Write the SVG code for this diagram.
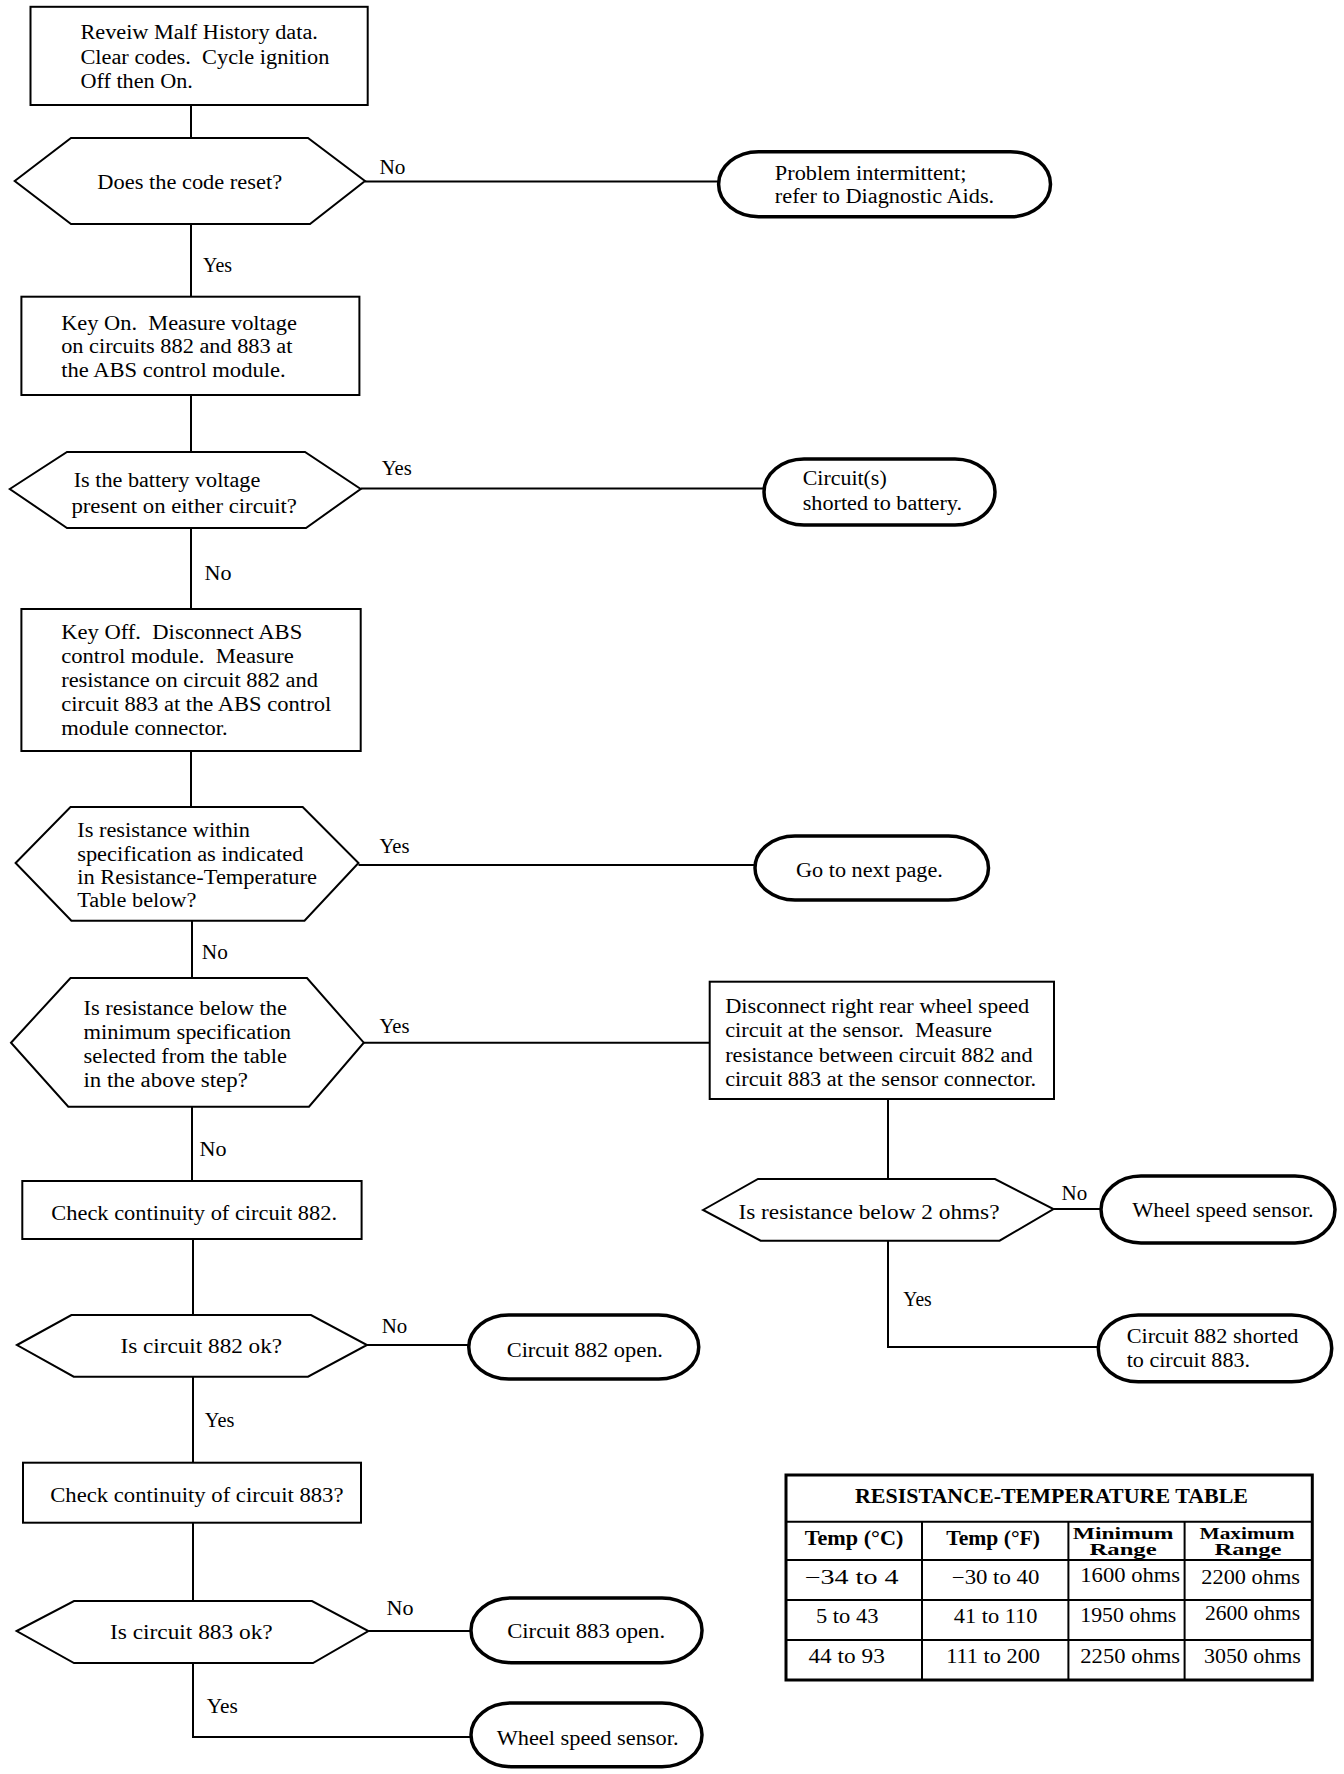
<svg xmlns="http://www.w3.org/2000/svg" width="1344" height="1774" viewBox="0 0 1344 1774">
<style>
.box{fill:#fff;stroke:#000;stroke-width:2}
.term{fill:#fff;stroke:#000;stroke-width:3.5}
.hex{fill:#fff;stroke:#000;stroke-width:2;stroke-linejoin:miter}
.ln{fill:none;stroke:#000;stroke-width:2}
.t{font-family:"Liberation Serif","Times New Roman",serif;font-size:20px;fill:#000}
.tb{font-family:"Liberation Serif","Times New Roman",serif;font-size:20px;font-weight:bold;fill:#000}
.ts{font-family:"Liberation Serif","Times New Roman",serif;font-size:16px;font-weight:bold;fill:#000}
.tl{fill:none;stroke:#000;stroke-width:2}
.to{fill:#fff;stroke:#000;stroke-width:3}
</style>
<rect width="1344" height="1774" fill="#fff"/>
<g id="connectors">
<polyline class="ln" points="191,105 191,138"/>
<polyline class="ln" points="365,181.5 719,181.5"/>
<polyline class="ln" points="191,224 191,297"/>
<polyline class="ln" points="191,395 191,452"/>
<polyline class="ln" points="360.7,488.5 764,488.5"/>
<polyline class="ln" points="191,528 191,609"/>
<polyline class="ln" points="191,751 191,807"/>
<polyline class="ln" points="358.5,865 755,865"/>
<polyline class="ln" points="192,921 192,978"/>
<polyline class="ln" points="363.8,1042.7 709.7,1042.7"/>
<polyline class="ln" points="192,1107 192,1181"/>
<polyline class="ln" points="193,1239 193,1315"/>
<polyline class="ln" points="367,1345 469,1345"/>
<polyline class="ln" points="193,1377 193,1463"/>
<polyline class="ln" points="193,1523 193,1601"/>
<polyline class="ln" points="368.4,1631 471,1631"/>
<polyline class="ln" points="193,1663 193,1737 471,1737"/>
<polyline class="ln" points="888,1099 888,1179"/>
<polyline class="ln" points="1053.5,1209 1101,1209"/>
<polyline class="ln" points="888,1241 888,1347 1098.3,1347"/>
<text class="t" x="379.5" y="174" textLength="26" lengthAdjust="spacingAndGlyphs">No</text>
<text class="t" x="203" y="271.5" textLength="29" lengthAdjust="spacingAndGlyphs">Yes</text>
<text class="t" x="381.7" y="475" textLength="30" lengthAdjust="spacingAndGlyphs">Yes</text>
<text class="t" x="204.5" y="580" textLength="27" lengthAdjust="spacingAndGlyphs">No</text>
<text class="t" x="379.5" y="852.7" textLength="30" lengthAdjust="spacingAndGlyphs">Yes</text>
<text class="t" x="201.8" y="959.3" textLength="26" lengthAdjust="spacingAndGlyphs">No</text>
<text class="t" x="379.5" y="1033.3" textLength="30" lengthAdjust="spacingAndGlyphs">Yes</text>
<text class="t" x="199.6" y="1156" textLength="27" lengthAdjust="spacingAndGlyphs">No</text>
<text class="t" x="381.7" y="1333.3" textLength="25.5" lengthAdjust="spacingAndGlyphs">No</text>
<text class="t" x="204.8" y="1427.3" textLength="29.5" lengthAdjust="spacingAndGlyphs">Yes</text>
<text class="t" x="386.6" y="1615" textLength="27" lengthAdjust="spacingAndGlyphs">No</text>
<text class="t" x="206.7" y="1712.7" textLength="31" lengthAdjust="spacingAndGlyphs">Yes</text>
<text class="t" x="1061.5" y="1200" textLength="25.7" lengthAdjust="spacingAndGlyphs">No</text>
<text class="t" x="903.3" y="1306" textLength="28.4" lengthAdjust="spacingAndGlyphs">Yes</text>
</g>
<g id="n1">
<rect class="box" x="30.5" y="6.8" width="337.2" height="98.2"/>
<text class="t" x="80.4" y="39.3" textLength="237.5" lengthAdjust="spacingAndGlyphs">Reveiw Malf History data.</text>
<text class="t" x="80.4" y="63.5" textLength="249" lengthAdjust="spacingAndGlyphs" xml:space="preserve">Clear codes.  Cycle ignition</text>
<text class="t" x="80.4" y="87.5" textLength="112.5" lengthAdjust="spacingAndGlyphs">Off then On.</text>
</g>
<g id="n2">
<polygon class="hex" points="14.7,181 71,138 308,138 365,181 310,224 71,224"/>
<text class="t" x="97.3" y="189.3" textLength="184.8" lengthAdjust="spacingAndGlyphs">Does the code reset?</text>
</g>
<g id="n3">
<rect class="term" x="718.6" y="151.7" width="331.9" height="65" rx="40" ry="32.5"/>
<text class="t" x="774.8" y="180" textLength="191.6" lengthAdjust="spacingAndGlyphs">Problem intermittent;</text>
<text class="t" x="774.8" y="202.7" textLength="219.4" lengthAdjust="spacingAndGlyphs">refer to Diagnostic Aids.</text>
</g>
<g id="n4">
<rect class="box" x="21.4" y="296.7" width="338" height="98.3"/>
<text class="t" x="61.2" y="330" textLength="235.7" lengthAdjust="spacingAndGlyphs" xml:space="preserve">Key On.  Measure voltage</text>
<text class="t" x="61.2" y="353.3" textLength="231.2" lengthAdjust="spacingAndGlyphs">on circuits 882 and 883 at</text>
<text class="t" x="61.2" y="376.7" textLength="224.5" lengthAdjust="spacingAndGlyphs">the ABS control module.</text>
</g>
<g id="n5">
<polygon class="hex" points="9.8,489 67,452 305,452 360.7,489 306,528 67,528"/>
<text class="t" x="73.7" y="486.7" textLength="186.6" lengthAdjust="spacingAndGlyphs">Is the battery voltage</text>
<text class="t" x="71.4" y="513.3" textLength="225.5" lengthAdjust="spacingAndGlyphs">present on either circuit?</text>
</g>
<g id="n6">
<rect class="term" x="764" y="459" width="231" height="66" rx="40" ry="33"/>
<text class="t" x="802.7" y="485" textLength="84" lengthAdjust="spacingAndGlyphs">Circuit(s)</text>
<text class="t" x="802.7" y="510" textLength="159.3" lengthAdjust="spacingAndGlyphs">shorted to battery.</text>
</g>
<g id="n7">
<rect class="box" x="21.4" y="609" width="339.3" height="142"/>
<text class="t" x="61.2" y="639.3" textLength="241" lengthAdjust="spacingAndGlyphs" xml:space="preserve">Key Off.  Disconnect ABS</text>
<text class="t" x="61.2" y="662.7" textLength="232.6" lengthAdjust="spacingAndGlyphs" xml:space="preserve">control module.  Measure</text>
<text class="t" x="61.2" y="686.7" textLength="256.7" lengthAdjust="spacingAndGlyphs">resistance on circuit 882 and</text>
<text class="t" x="61.2" y="710.7" textLength="270" lengthAdjust="spacingAndGlyphs">circuit 883 at the ABS control</text>
<text class="t" x="61.2" y="735" textLength="166.5" lengthAdjust="spacingAndGlyphs">module connector.</text>
</g>
<g id="n8">
<polygon class="hex" points="15.6,863 70.5,807 302.7,807 358.5,863 304.5,920.7 71.4,920.7"/>
<text class="t" x="77.2" y="836.7" textLength="172.8" lengthAdjust="spacingAndGlyphs">Is resistance within</text>
<text class="t" x="77.2" y="860.5" textLength="226.3" lengthAdjust="spacingAndGlyphs">specification as indicated</text>
<text class="t" x="77.2" y="884" textLength="239.7" lengthAdjust="spacingAndGlyphs">in Resistance-Temperature</text>
<text class="t" x="77.2" y="907.3" textLength="119.2" lengthAdjust="spacingAndGlyphs">Table below?</text>
</g>
<g id="n9">
<rect class="term" x="755" y="836" width="233.5" height="64" rx="40" ry="32"/>
<text class="t" x="796" y="877.3" textLength="146.9" lengthAdjust="spacingAndGlyphs">Go to next page.</text>
</g>
<g id="n10">
<polygon class="hex" points="11,1042.7 70.5,978 307,978 363.8,1042.7 309,1106.7 68.3,1106.7"/>
<text class="t" x="83.5" y="1015" textLength="203.5" lengthAdjust="spacingAndGlyphs">Is resistance below the</text>
<text class="t" x="83.5" y="1039.3" textLength="207.6" lengthAdjust="spacingAndGlyphs">minimum specification</text>
<text class="t" x="83.5" y="1063.3" textLength="203.5" lengthAdjust="spacingAndGlyphs">selected from the table</text>
<text class="t" x="83.5" y="1087.3" textLength="164.3" lengthAdjust="spacingAndGlyphs">in the above step?</text>
</g>
<g id="n11">
<rect class="box" x="709.7" y="981.7" width="344.3" height="117.3"/>
<text class="t" x="725.2" y="1013.3" textLength="304" lengthAdjust="spacingAndGlyphs">Disconnect right rear wheel speed</text>
<text class="t" x="725.2" y="1037.3" textLength="266.8" lengthAdjust="spacingAndGlyphs" xml:space="preserve">circuit at the sensor.  Measure</text>
<text class="t" x="725.2" y="1061.7" textLength="307.5" lengthAdjust="spacingAndGlyphs">resistance between circuit 882 and</text>
<text class="t" x="725.2" y="1086" textLength="311" lengthAdjust="spacingAndGlyphs">circuit 883 at the sensor connector.</text>
</g>
<g id="n12">
<polygon class="hex" points="703,1210 758,1179 995,1179 1053.5,1209 999.6,1240.7 760.6,1240.7"/>
<text class="t" x="738.5" y="1219.3" textLength="261" lengthAdjust="spacingAndGlyphs">Is resistance below 2 ohms?</text>
</g>
<g id="n13">
<rect class="term" x="1101" y="1176" width="234" height="67" rx="40" ry="33.5"/>
<text class="t" x="1132.3" y="1216.7" textLength="181.4" lengthAdjust="spacingAndGlyphs">Wheel speed sensor.</text>
</g>
<g id="n14">
<rect class="term" x="1098.3" y="1315" width="233.4" height="66.7" rx="40" ry="33"/>
<text class="t" x="1126.7" y="1343.3" textLength="171.7" lengthAdjust="spacingAndGlyphs">Circuit 882 shorted</text>
<text class="t" x="1126.7" y="1367.3" textLength="123.3" lengthAdjust="spacingAndGlyphs">to circuit 883.</text>
</g>
<g id="n15">
<rect class="box" x="22.3" y="1181" width="339.3" height="58"/>
<text class="t" x="51.3" y="1220" textLength="285.7" lengthAdjust="spacingAndGlyphs">Check continuity of circuit 882.</text>
</g>
<g id="n16">
<polygon class="hex" points="17,1345 71.4,1315 311,1315 367,1345 308,1376.7 73.7,1376.7"/>
<text class="t" x="120.5" y="1353.3" textLength="161.6" lengthAdjust="spacingAndGlyphs">Is circuit 882 ok?</text>
</g>
<g id="n17">
<rect class="term" x="468.75" y="1315" width="230" height="64" rx="40" ry="32"/>
<text class="t" x="506.7" y="1356.7" textLength="156.3" lengthAdjust="spacingAndGlyphs">Circuit 882 open.</text>
</g>
<g id="n18">
<rect class="box" x="23" y="1462.7" width="338" height="60"/>
<text class="t" x="50.2" y="1501.7" textLength="293.3" lengthAdjust="spacingAndGlyphs">Check continuity of circuit 883?</text>
</g>
<g id="n19">
<polygon class="hex" points="16.7,1631 74,1601 312,1601 368.4,1631 313,1663 74,1663"/>
<text class="t" x="110" y="1639.3" textLength="162.7" lengthAdjust="spacingAndGlyphs">Is circuit 883 ok?</text>
</g>
<g id="n20">
<rect class="term" x="471" y="1598" width="231" height="64.7" rx="40" ry="32"/>
<text class="t" x="507.2" y="1637.7" textLength="157.9" lengthAdjust="spacingAndGlyphs">Circuit 883 open.</text>
</g>
<g id="n21">
<rect class="term" x="471" y="1703" width="231" height="63.7" rx="40" ry="31.8"/>
<text class="t" x="496.7" y="1745" textLength="181.8" lengthAdjust="spacingAndGlyphs">Wheel speed sensor.</text>
</g>
<g id="table">
<rect class="to" x="786" y="1475" width="526.3" height="205"/>
<line class="tl" x1="786" y1="1521.7" x2="1312.3" y2="1521.7"/>
<line class="tl" x1="786" y1="1560" x2="1312.3" y2="1560"/>
<line class="tl" x1="786" y1="1600" x2="1312.3" y2="1600"/>
<line class="tl" x1="786" y1="1640" x2="1312.3" y2="1640"/>
<line class="tl" x1="922" y1="1521.7" x2="922" y2="1680"/>
<line class="tl" x1="1068.4" y1="1521.7" x2="1068.4" y2="1680"/>
<line class="tl" x1="1184.6" y1="1521.7" x2="1184.6" y2="1680"/>
<text class="tb" x="855" y="1503.3" textLength="393" lengthAdjust="spacingAndGlyphs">RESISTANCE-TEMPERATURE TABLE</text>
<text class="tb" x="804.7" y="1545" textLength="98.7" lengthAdjust="spacingAndGlyphs">Temp (°C)</text>
<text class="tb" x="946.2" y="1545" textLength="93.8" lengthAdjust="spacingAndGlyphs">Temp (°F)</text>
<text class="ts" x="1072.8" y="1539" textLength="100.6" lengthAdjust="spacingAndGlyphs">Minimum</text>
<text class="ts" x="1089.6" y="1554.5" textLength="67" lengthAdjust="spacingAndGlyphs">Range</text>
<text class="ts" x="1199.5" y="1539" textLength="95" lengthAdjust="spacingAndGlyphs">Maximum</text>
<text class="ts" x="1214.4" y="1554.5" textLength="67" lengthAdjust="spacingAndGlyphs">Range</text>
<text class="t" x="804.7" y="1584" textLength="93.8" lengthAdjust="spacingAndGlyphs">−34 to 4</text>
<text class="t" x="951.8" y="1584" textLength="87.5" lengthAdjust="spacingAndGlyphs">−30 to 40</text>
<text class="t" x="1080.3" y="1581.7" textLength="99.8" lengthAdjust="spacingAndGlyphs">1600 ohms</text>
<text class="t" x="1201.3" y="1584" textLength="98.7" lengthAdjust="spacingAndGlyphs">2200 ohms</text>
<text class="t" x="815.9" y="1623.3" textLength="62.5" lengthAdjust="spacingAndGlyphs">5 to 43</text>
<text class="t" x="953.7" y="1623.3" textLength="83.8" lengthAdjust="spacingAndGlyphs">41 to 110</text>
<text class="t" x="1080.3" y="1621.7" textLength="96" lengthAdjust="spacingAndGlyphs">1950 ohms</text>
<text class="t" x="1205" y="1620" textLength="95" lengthAdjust="spacingAndGlyphs">2600 ohms</text>
<text class="t" x="808.4" y="1663.3" textLength="76.4" lengthAdjust="spacingAndGlyphs">44 to 93</text>
<text class="t" x="946.2" y="1663.3" textLength="93.8" lengthAdjust="spacingAndGlyphs">111 to 200</text>
<text class="t" x="1080.3" y="1663.3" textLength="99.8" lengthAdjust="spacingAndGlyphs">2250 ohms</text>
<text class="t" x="1204" y="1663.3" textLength="96.8" lengthAdjust="spacingAndGlyphs">3050 ohms</text>
</g>
</svg>
